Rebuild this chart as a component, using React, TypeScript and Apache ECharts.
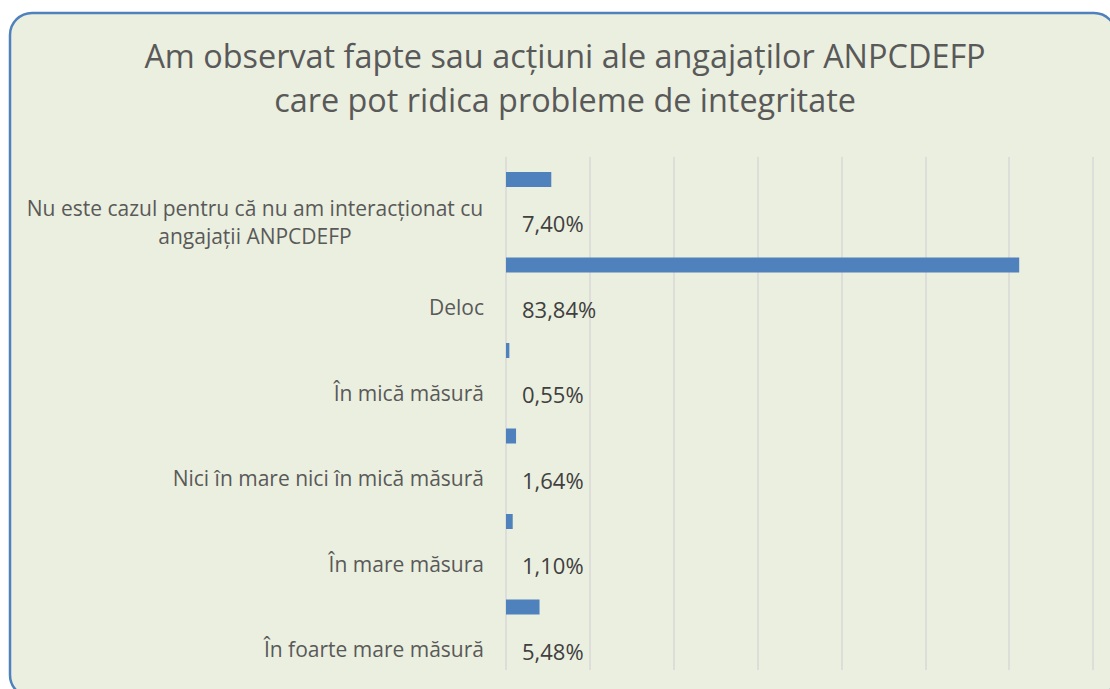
import React, { useEffect, useRef } from "react";
import * as echarts from "echarts";

const TITLE = "Am observat fapte sau acțiuni ale angajaților ANPCDEFP\ncare pot ridica probleme de integritate";

const categories = [
  "Nu este cazul pentru că nu am interacționat cu\nangajații ANPCDEFP",
  "Deloc",
  "În mică măsură",
  "Nici în mare nici în mică măsură",
  "În mare măsura",
  "În foarte mare măsură",
];

// respondent counts (total 365) -> percentages shown as labels
const counts = [27, 306, 2, 6, 4, 20];

const axisMin = 0;
const axisMax = 350;
const axisInterval = 50;

const FONT = "'Open Sans', sans-serif";

export default function App() {
  const ref = useRef<HTMLDivElement>(null);

  useEffect(() => {
    if (!ref.current) return;
    const chart = echarts.init(ref.current, undefined, { renderer: "svg" });
    const total = counts.reduce((a, b) => a + b, 0);
    const pct = (v: number) => ((v / total) * 100).toFixed(2).replace(".", ",") + "%";

    chart.setOption({
      animation: false,
      backgroundColor: "#ffffff",
      graphic: [
        {
          type: "rect",
          z: -10,
          silent: true,
          shape: { x: 10, y: 13, width: 1106, height: 684, r: 22 },
          style: { fill: "#EBEFDF", stroke: "#4F81BD", lineWidth: 2.5 },
        },
      ],
      title: {
        text: TITLE,
        left: 560,
        top: 28,
        textAlign: "center",
        textStyle: {
          fontFamily: FONT,
          fontSize: 32.4,
          fontWeight: "normal",
          color: "#595959",
          lineHeight: 44,
        },
      },
      grid: { left: 506, right: 17, top: 157, bottom: 19, containLabel: false },
      xAxis: {
        type: "value",
        min: axisMin,
        max: axisMax,
        interval: axisInterval,
        axisLabel: { show: false },
        axisLine: { show: false },
        axisTick: { show: false },
        splitLine: { show: true, lineStyle: { color: "#D9D9D9", width: 1.5 } },
      },
      yAxis: {
        type: "category",
        inverse: true,
        data: categories,
        axisLine: { show: false },
        axisTick: { show: false },
        axisLabel: {
          interval: 0,
          margin: 22,
          fontFamily: FONT,
          fontSize: 21,
          color: "#595959",
          lineHeight: 28,
          padding: [44, 0, 0, 0],
          formatter: (v: string) =>
            v.includes("\n") ? v.split("\n").map((l) => `{c|${l}}`).join("\n") : v,
          rich: {
            c: {
              width: 458,
              align: "center",
              fontFamily: FONT,
              fontSize: 21,
              color: "#595959",
              lineHeight: 28,
            },
          },
        },
      },
      series: [
        {
          type: "bar",
          data: counts,
          barWidth: 15,
          barGap: "170%",
          itemStyle: { color: "#4F81BD" },
          label: {
            show: true,
            position: [16, 51],
            verticalAlign: "middle",
            align: "left",
            fontFamily: FONT,
            fontSize: 22,
            color: "#404040",
            formatter: (p: any) => pct(p.value),
          },
        },
        {
          type: "bar",
          data: counts.map(() => null),
          barWidth: 15,
          silent: true,
        },
      ],
    });
    return () => chart.dispose();
  }, []);

  return (
    <div
      ref={ref}
      style={{ position: "absolute", left: 0, top: 0, width: 1110, height: 689 }}
    />
  );
}
